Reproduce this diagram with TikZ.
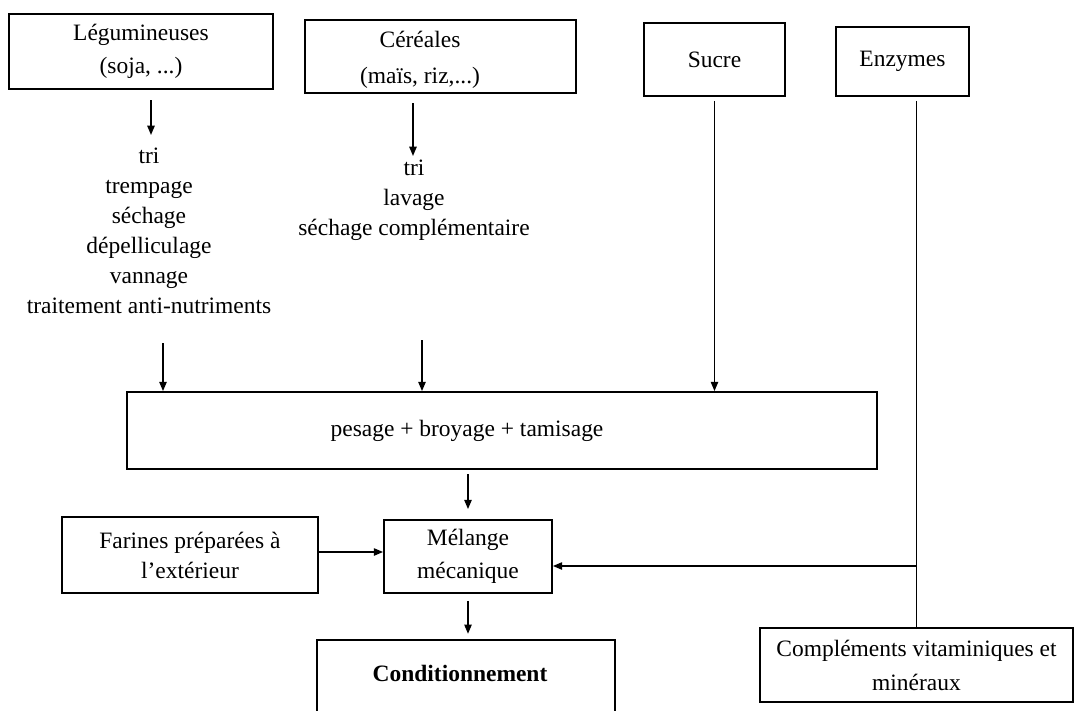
\documentclass[tikz,border=0pt]{standalone}
\usepackage{fontspec}
\setmainfont{Liberation Serif}
\usetikzlibrary{arrows.meta,calc}
\begin{document}
\begin{tikzpicture}[x=0.75pt,y=-0.75pt,
  font=\fontsize{17.6}{22.5}\selectfont,
  bx/.style 2 args={draw, line width=1.3pt, minimum width=#1*0.75pt, minimum height=#2*0.75pt, inner sep=0pt, align=center},
  txt/.style={inner sep=0pt, align=center},
  arr/.style={line width=1.2pt, -{Triangle[length=7pt,width=5.5pt]}},
  ln/.style={line width=1.2pt}]
\useasboundingbox (0,0) rectangle (1076,711);
\clip (0,0) rectangle (1076,711);
% top boxes
\node[bx={264}{75}] (leg) at (141,51.5) {Légumineuses\\[2pt](soja, ...)};
\node[bx={271}{73}] (cer) at (440.5,56.5) {};
\node[txt] (cert) at (420,60) {Céréales\\[5pt](maïs, riz,...)};
\node[bx={141}{73}] (sucre) at (714.5,59.5) {Sucre};
\node[bx={133}{69}] (enz) at (902.5,61.5) {Enzymes};
% step lists
\node[txt] (legs) at (149,231) {tri\\trempage\\séchage\\dépelliculage\\vannage\\traitement anti-nutriments};
\node[txt] (cers) at (414,200) {tri\\lavage\\séchage complémentaire};
% middle
\node[bx={750}{77}] (pes) at (502,430.5) {};
\node[txt] (pest) at (467,431) {pesage + broyage + tamisage};
\node[bx={256}{76}] (far) at (190,555) {Farines préparées à\\l'extérieur};
\node[bx={168}{73}] (mel) at (468,556.5) {Mélange\\[2pt]mécanique};
\node[bx={298}{110}] (cond) at (466,695) {};
\node[txt,font=\fontsize{17.6}{22.5}\selectfont\bfseries] (condt) at (460,673) {Conditionnement};
\node[bx={313}{74}] (comp) at (916.5,665) {Compléments vitaminiques et\\[3pt]minéraux};
% connectors
\coordinate (c1) at (151,100);
\draw[arr] (c1) -- ++(0,35);
\coordinate (c2) at (413,103);
\draw[arr] (c2) -- ++(0,53);
\coordinate (c3) at (163,343);
\draw[arr] (c3) -- (c3 |- pes.north);
\coordinate (c4) at (422,340);
\draw[arr] (c4) -- (c4 |- pes.north);
\draw[arr] ($(sucre.south)+(0,4)$) -- (sucre.south |- pes.north);
\draw[arr] ($(mel.north)+(0,-45)$) -- ($(mel.north)+(0,-10)$);
\draw[arr] ($(mel.south)+(0,7)$) -- ++(0,33);
\coordinate (fe) at ($(far.east)+(0,-3)$);
\draw[arr] (fe) -- (fe -| mel.west);
\coordinate (j) at (916.5,566);
\draw[ln] ($(comp.north |- enz.south)+(0,4)$) -- (comp.north);
\draw[arr] (j) -- (j -| mel.east);
\end{tikzpicture}
\end{document}
